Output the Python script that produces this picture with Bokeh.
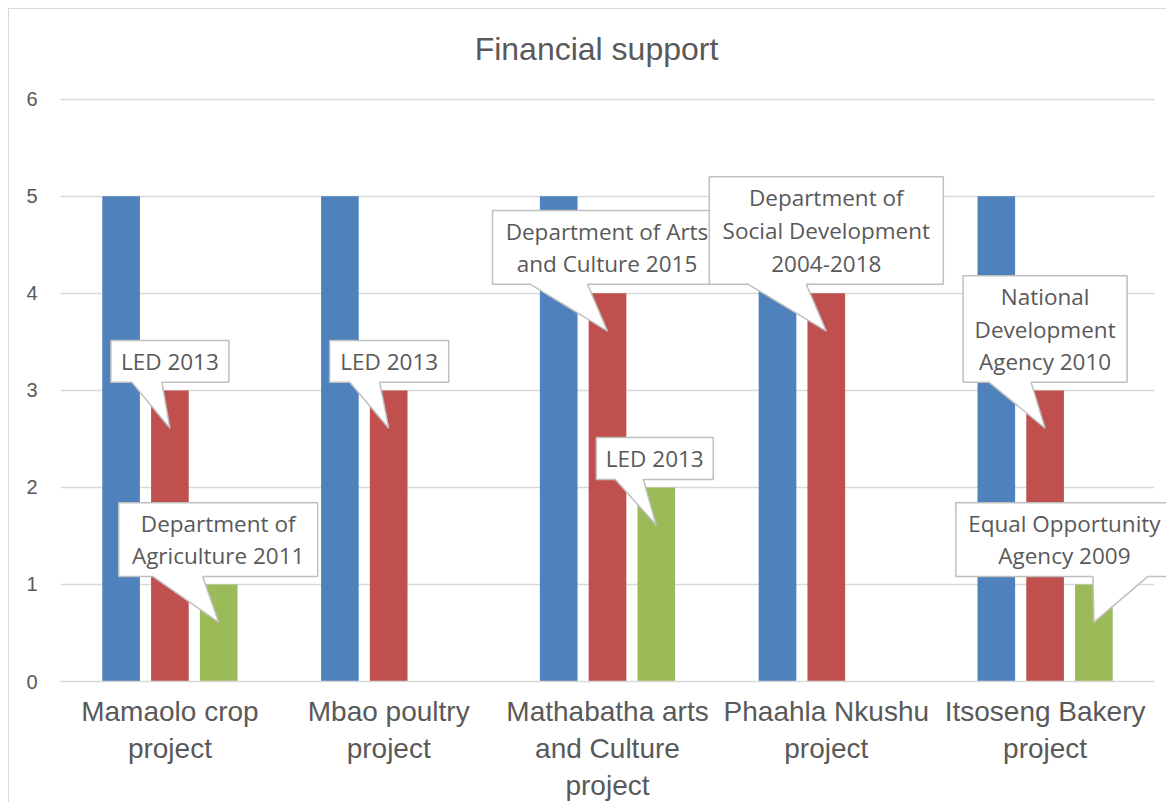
from bokeh.plotting import figure
from bokeh.models import Range1d, FixedTicker
from bokeh.core.properties import value
from bokeh.embed import file_html
from bokeh.resources import INLINE

# ---------------- data ----------------
categories = [
    "Mamaolo crop\nproject",
    "Mbao poultry\nproject",
    "Mathabatha arts\nand Culture\nproject",
    "Phaahla Nkushu\nproject",
    "Itsoseng Bakery\nproject",
]
series_blue = [5, 5, 5, 5, 5]
series_red = [3, 3, 4, 4, 3]
series_green = [1, 0, 2, 0, 1]
y_ticks = [0, 1, 2, 3, 4, 5, 6]
title_text = "Financial support"

callout_texts = [
    "LED 2013",
    "LED 2013",
    "Department of\nAgriculture 2011",
    "Department of Arts\nand Culture 2015",
    "Department of\nSocial Development\n2004-2018",
    "LED 2013",
    "National\nDevelopment\nAgency 2010",
    "Equal Opportunity\nAgency 2009",
]
callout_series = [1, 1, 2, 1, 1, 2, 1, 2]      # 0 blue, 1 red, 2 green
callout_category = [0, 1, 0, 2, 3, 2, 4, 4]

# ---------------- style / layout ----------------
W, H = 1158, 794
ML, MB = 51, 120
PX_X = 218.8          # pixels per category
PX_Y = 97.33          # pixels per unit
frame_w = W - ML
frame_h = H - MB
BAR_W = 0.172
OFFS = [-0.223, 0.0, 0.223]
COLORS = ["#4f81bd", "#c0504d", "#9bbb59"]
GREY = "#595959"
LINE = "#d9d9d9"
TITLE_PX = (587, 40)   # title centre, pixels from the figure's top-left

# callout geometry in px relative to tip: left, right, top(up), bottom(up), base_l, base_r
callout_geom = [
    (-59, 59, 88, 46, -38, -8),
    (-59, 60, 88, 46, -39, -9),
    (-100, 99, 120, 46, -66, -16),
    (-115, 114, 121, 47, -77, -20),
    (-117, 117, 155, 47, -78, -20),
    (-60, 57, 88, 46, -41, -13),
    (-82, 82, 153, 46, -56, -14),
    (-138, 79, 120, 46, -1, 54),
]
TIP_DROP = 0.39

y_top = frame_h / PX_Y
p = figure(
    width=W, height=H,
    x_range=Range1d(0.5, 0.5 + frame_w / PX_X),
    y_range=Range1d(0, y_top),
    output_backend="svg", toolbar_location=None,
    min_border_left=ML, min_border_right=0,
    min_border_top=0, min_border_bottom=MB,
)
p.outline_line_color = None
p.styles = {
    "margin-left": "8px", "margin-top": "8px",
    "border-left": "1px solid #d9d9d9", "border-top": "1px solid #d9d9d9",
}

# axes
p.yaxis.ticker = FixedTicker(ticks=y_ticks)
p.yaxis.axis_line_color = None
p.yaxis.major_tick_line_color = None
p.yaxis.minor_tick_line_color = None
p.yaxis.major_tick_out = 0
p.yaxis.major_tick_in = 0
p.yaxis.major_label_standoff = 23
p.yaxis.major_label_text_font = "Liberation Sans"
p.yaxis.major_label_text_font_size = "20px"
p.yaxis.major_label_text_color = GREY

ticks_x = list(range(1, len(categories) + 1))
p.xaxis.ticker = FixedTicker(ticks=ticks_x)
p.xaxis.major_label_overrides = {t: c for t, c in zip(ticks_x, categories)}
p.xaxis.axis_line_color = LINE
p.xaxis.axis_line_width = 1.5
p.xaxis.bounds = (0.5, 5.5)
p.xaxis.major_tick_line_color = None
p.xaxis.minor_tick_line_color = None
p.xaxis.major_tick_out = 0
p.xaxis.major_tick_in = 0
p.xaxis.major_label_standoff = 14
p.xaxis.major_label_text_font = "Liberation Sans"
p.xaxis.major_label_text_font_size = "28px"
p.xaxis.major_label_text_color = GREY

p.xgrid.grid_line_color = None
p.ygrid.grid_line_color = LINE
p.ygrid.grid_line_width = 1.5
p.ygrid.cross_bounds = (0.5, 5.5)

# title (drawn as text inside the frame)
p.text(x=[0.5 + (TITLE_PX[0] - ML) / PX_X], y=[y_top - TITLE_PX[1] / PX_Y],
       text=[title_text], text_align="center", text_baseline="middle",
       text_font=value("Liberation Sans"), text_font_size="32px",
       text_color=GREY)

# bars
all_series = [series_blue, series_red, series_green]
for s, (vals, col, off) in enumerate(zip(all_series, COLORS, OFFS)):
    xs = [t + off for t in ticks_x]
    p.vbar(x=xs, top=vals, width=BAR_W, fill_color=col, line_color=None)

# callouts
for txt, s, c, g in zip(callout_texts, callout_series, callout_category, callout_geom):
    tx = ticks_x[c] + OFFS[s]
    ty = all_series[s][c] - TIP_DROP
    l, r, top, bot, bl, br = g
    X = lambda px: tx + px / PX_X
    Y = lambda px: ty + px / PX_Y
    xs = [X(l), X(r), X(r), X(br), tx, X(bl), X(l)]
    ys = [Y(top), Y(top), Y(bot), Y(bot), ty, Y(bot), Y(bot)]
    p.patch(xs, ys, fill_color="white", line_color="#bfbfbf", line_width=1.5)
    p.text(x=[X((l + r) / 2)], y=[Y((top + bot) / 2)], text=[txt],
           text_align="center", text_baseline="middle",
           text_font=value("Open Sans"), text_font_size="22.5px",
           text_color=GREY, text_line_height=1.05)

open("out.html", "w").write(file_html(p, INLINE))
